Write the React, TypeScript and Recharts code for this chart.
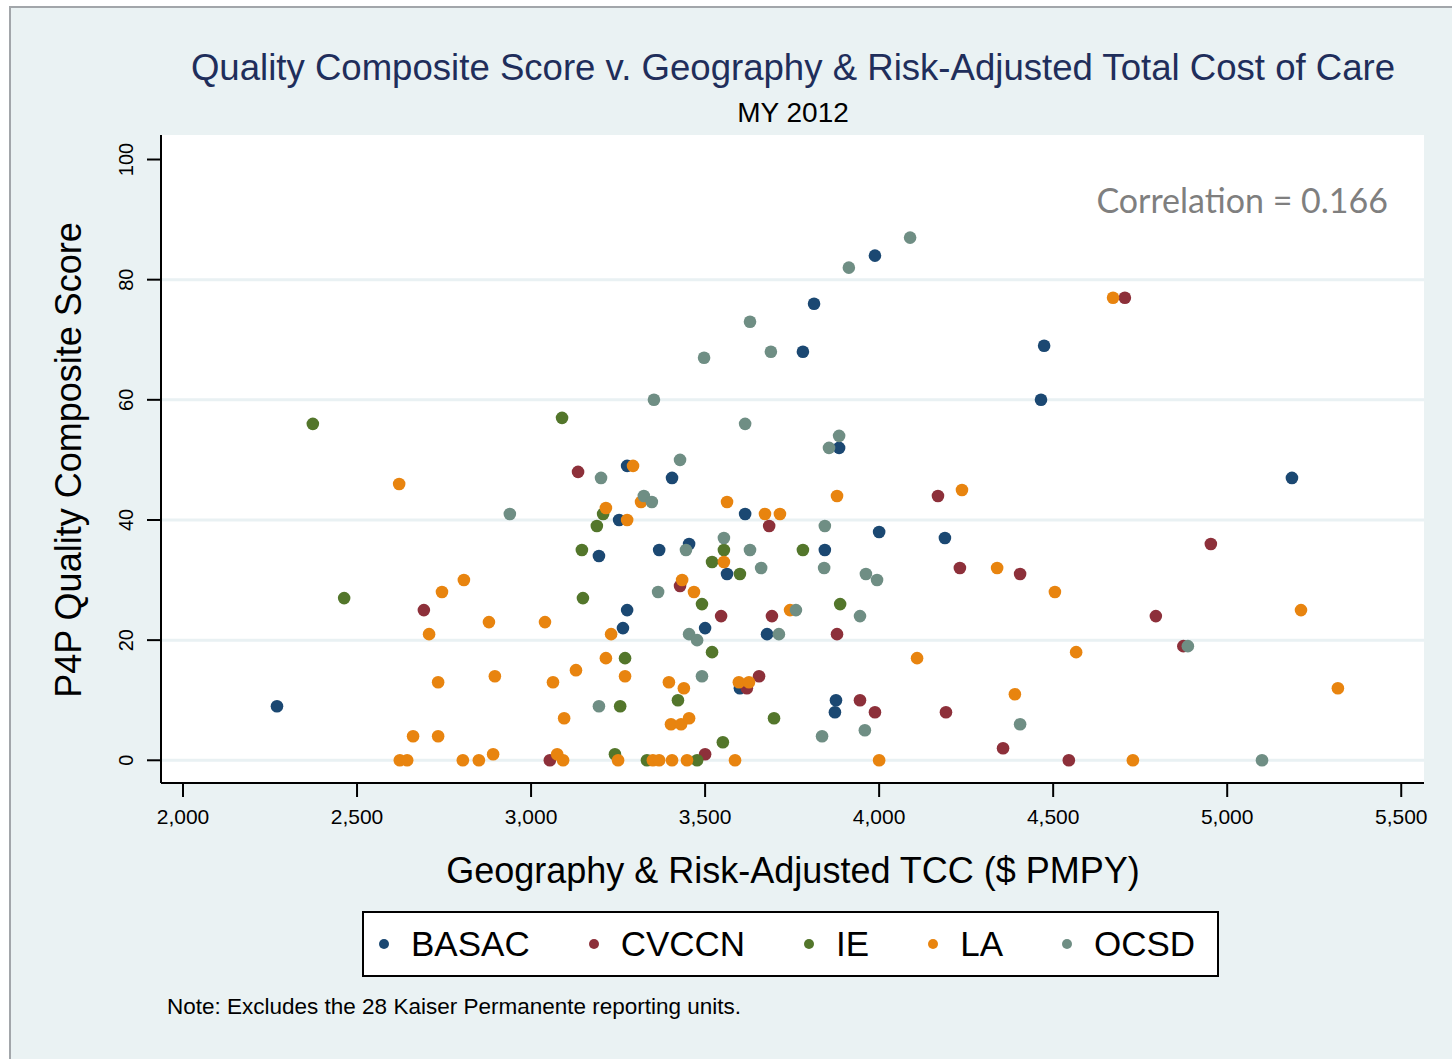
import React from "react";
import { ScatterChart, Scatter, XAxis, YAxis, CartesianGrid } from "recharts";

// [TCC $ PMPY, quality score]
const basac: [number, number][] = [
  [2270, 9], [3276, 49], [3405, 47], [3195, 34], [3253, 40], [3368, 35], [3454, 36],
  [3276, 25], [3264, 22], [3500, 22], [3563, 31], [3615, 41], [3678, 21], [3600, 12],
  [3813, 76], [3781, 68], [3988, 84], [3885, 52], [3844, 35], [4000, 38], [3876, 10],
  [3873, 8], [4189, 37], [4465, 60], [4474, 69], [5186, 47],
];
const cvccn: [number, number][] = [
  [3135, 48], [2692, 25], [3054, 0], [3428, 29], [3546, 24], [3692, 24], [3684, 39],
  [3879, 21], [3655, 14], [3620, 12], [3500, 1], [3945, 10], [3988, 8], [4192, 8],
  [4169, 44], [4232, 32], [4405, 31], [4356, 2], [4545, 0], [4706, 77], [4795, 24],
  [4953, 36], [4874, 19],
];
const ie: [number, number][] = [
  [2373, 56], [2463, 27], [3089, 57], [3207, 41], [3189, 39], [3146, 35], [3149, 27],
  [3270, 17], [3256, 9], [3241, 1], [3333, 0], [3477, 0], [3491, 26], [3422, 10],
  [3520, 18], [3520, 33], [3554, 35], [3600, 31], [3781, 35], [3888, 26], [3698, 7],
  [3551, 3],
];
const la: [number, number][] = [
  [2621, 46], [2744, 28], [2807, 30], [2707, 21], [2879, 23], [3040, 23], [2733, 13],
  [2896, 14], [3063, 13], [3129, 15], [3095, 7], [2661, 4], [2733, 4], [2623, 0],
  [2644, 0], [2804, 0], [2850, 0], [2891, 1], [3075, 1], [3092, 0], [3230, 21],
  [3215, 17], [3270, 14], [3396, 13], [3439, 12], [3402, 6], [3431, 6], [3454, 7],
  [3250, 0], [3350, 0], [3368, 0], [3405, 0], [3448, 0], [3468, 28], [3434, 30],
  [3293, 49], [3215, 42], [3316, 43], [3276, 40], [3563, 43], [3672, 41], [3715, 41],
  [3879, 44], [3554, 33], [3744, 25], [3597, 13], [3626, 13], [3586, 0], [4000, 0],
  [4109, 17], [4339, 32], [4505, 28], [4566, 18], [4390, 11], [4729, 0], [5212, 25],
  [5318, 12], [4238, 45], [4672, 77],
];
const ocsd: [number, number][] = [
  [2939, 41], [3353, 60], [3428, 50], [3201, 47], [3324, 44], [3347, 43], [3445, 35],
  [4089, 87], [3913, 82], [3629, 73], [3497, 67], [3689, 68], [3615, 56], [3885, 54],
  [3856, 52], [3844, 39], [3554, 37], [3629, 35], [3661, 32], [3842, 32], [3962, 31],
  [3994, 30], [3761, 25], [3945, 24], [3712, 21], [3454, 21], [3477, 20], [3491, 14],
  [3836, 4], [3959, 5], [3365, 28], [3195, 9], [4887, 19], [4405, 6], [5100, 0],
];

const regions = ["BASAC", "CVCCN", "IE", "LA", "OCSD"];
const colors = ["#1b4872", "#8d303a", "#53762b", "#e8840f", "#6f8e84"];
const seriesData = [basac, cvccn, ie, la, ocsd];

const xTicks = [2000, 2500, 3000, 3500, 4000, 4500, 5000, 5500];
const yTicks = [0, 20, 40, 60, 80, 100];
const gridValues = [0, 20, 40, 60, 80];

const font = '"Liberation Sans", Arial, Helvetica, sans-serif';

const XTick = (props: any) => {
  const { x, y, payload } = props;
  return (
    <text x={x} y={y} dy="0.71em" textAnchor="middle" fontSize={21} fill="#000" fontFamily={font}>
      {Number(payload.value).toLocaleString("en-US")}
    </text>
  );
};

const YTick = (props: any) => {
  const { x, y, payload } = props;
  const tx = x - 12;
  return (
    <text x={tx} y={y} textAnchor="middle" fontSize={20} fill="#000" fontFamily={font} transform={`rotate(-90 ${tx} ${y})`}>
      {payload.value}
    </text>
  );
};

export default function App() {
  return (
    <div style={{ position: "absolute", left: 0, top: 0, width: 1452, height: 1059, background: "#fff", overflow: "hidden", fontFamily: font }}>
      <div style={{ position: "absolute", left: 9, top: 6, width: 1460, height: 1070, background: "#eaf2f3", borderLeft: "2px solid #a2a6aa", borderTop: "2px solid #a2a6aa" }} />
      <div style={{ position: "absolute", left: 0, top: 0 }}>
        <ScatterChart width={1452} height={1059} margin={{ top: 135, right: 28, bottom: 246, left: 101 }}>
          <CartesianGrid fill="#fff" stroke="#e9f1f3" strokeWidth={3} vertical={false} horizontalValues={gridValues} />
          <XAxis
            type="number"
            dataKey="x"
            domain={[1936.8, 5565.4]}
            allowDataOverflow
            ticks={xTicks}
            height={30}
            tickSize={14}
            tickMargin={12}
            tick={<XTick />}
            axisLine={{ stroke: "#000", strokeWidth: 2 }}
            tickLine={{ stroke: "#000", strokeWidth: 2 }}
          />
          <YAxis
            type="number"
            dataKey="y"
            domain={[-3.78, 104.08]}
            allowDataOverflow
            ticks={yTicks}
            width={60}
            tickSize={14}
            tick={<YTick />}
            axisLine={{ stroke: "#000", strokeWidth: 2 }}
            tickLine={{ stroke: "#000", strokeWidth: 2 }}
          />
          {regions.map((name, i) => (
            <Scatter
              key={name}
              name={name}
              data={seriesData[i].map(([x, y]) => ({ x, y }))}
              isAnimationActive={false}
              shape={(p: any) => <circle cx={p.cx} cy={p.cy} r={6.3} fill={colors[i]} />}
            />
          ))}
        </ScatterChart>
      </div>

      <div style={{ position: "absolute", left: 93, width: 1400, top: 50, textAlign: "center", fontSize: 36.6, lineHeight: "36px", color: "#1f2e5b", whiteSpace: "nowrap" }}>
        Quality Composite Score v. Geography &amp; Risk-Adjusted Total Cost of Care
      </div>
      <div style={{ position: "absolute", left: 593, width: 400, top: 99, textAlign: "center", fontSize: 28, lineHeight: "28px", color: "#000" }}>
        MY 2012
      </div>
      <div style={{ position: "absolute", left: 1000, width: 388, top: 183, textAlign: "right", fontSize: 34, lineHeight: "34px", color: "#7f7f7f", fontFamily: "Lato, 'Open Sans', sans-serif" }}>
        Correlation = 0.166
      </div>
      <div style={{ position: "absolute", left: 69 - 350, width: 700, top: 460 - 18, textAlign: "center", fontSize: 36, lineHeight: "36px", color: "#000", transform: "rotate(-90deg)", whiteSpace: "nowrap" }}>
        P4P Quality Composite Score
      </div>
      <div style={{ position: "absolute", left: 393, width: 800, top: 853, textAlign: "center", fontSize: 36, lineHeight: "36px", color: "#000", whiteSpace: "nowrap" }}>
        Geography &amp; Risk-Adjusted TCC ($ PMPY)
      </div>

      <div style={{ position: "absolute", left: 362, top: 911, width: 857, height: 66, boxSizing: "border-box", border: "2px solid #000", background: "#fff", display: "flex", alignItems: "center", paddingLeft: 15 }}>
        {regions.map((name, i) => (
          <div key={name} style={{ display: "flex", alignItems: "center", marginRight: 59 }}>
            <span style={{ width: 10, height: 10, borderRadius: 5, background: colors[i], display: "inline-block", marginRight: 22 }} />
            <span style={{ fontSize: 35, lineHeight: "36px", color: "#000" }}>{name}</span>
          </div>
        ))}
      </div>

      <div style={{ position: "absolute", left: 167, top: 996, fontSize: 22.5, lineHeight: "22px", color: "#000", whiteSpace: "nowrap" }}>
        Note: Excludes the 28 Kaiser Permanente reporting units.
      </div>
    </div>
  );
}
